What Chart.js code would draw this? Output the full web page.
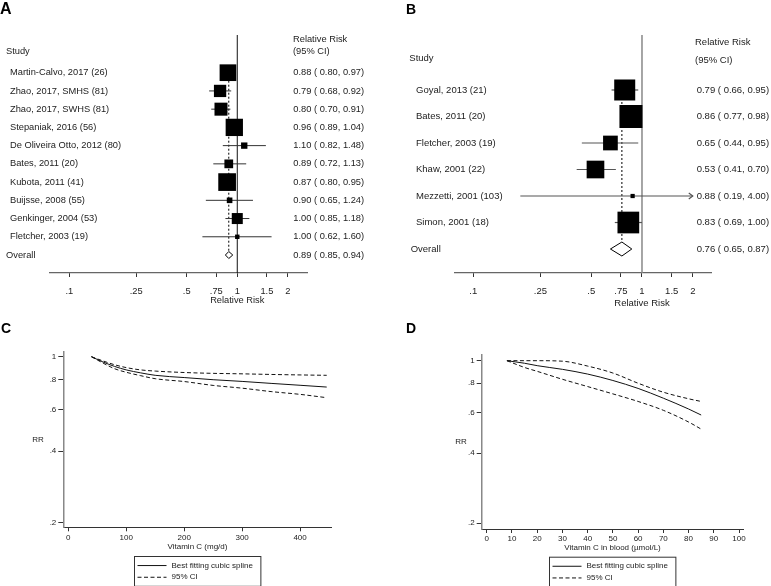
<!DOCTYPE html>
<html>
<head>
<meta charset="utf-8">
<script src="https://cdn.jsdelivr.net/npm/chart.js@4.4.1/dist/chart.umd.min.js"></script>
<style>
body{margin:0;background:#fff;width:771px;height:586px;overflow:hidden;position:relative;font-family:"Liberation Sans",Arial,sans-serif}
canvas{position:absolute}
.lbl{position:absolute;font-weight:bold;font-size:14px;line-height:1;color:#000}
</style>
</head>
<body>
<canvas id="cA" width="385" height="310" style="left:0;top:0"></canvas>
<canvas id="cB" width="386" height="310" style="left:385px;top:0"></canvas>
<canvas id="cC" width="385" height="276" style="left:0;top:310px"></canvas>
<canvas id="cD" width="386" height="276" style="left:385px;top:310px"></canvas>
<div class="lbl" style="left:0;top:1px;font-size:16px">A</div>
<div class="lbl" style="left:406px;top:2px">B</div>
<div class="lbl" style="left:1px;top:321px">C</div>
<div class="lbl" style="left:406px;top:321px">D</div>
<script>
// panel A - dietary vitamin C
const studiesA = ['Martin-Calvo, 2017 (26)', 'Zhao, 2017, SMHS (81)', 'Zhao, 2017, SWHS (81)',
  'Stepaniak, 2016 (56)', 'De Oliveira Otto, 2012 (80)', 'Bates, 2011 (20)', 'Kubota, 2011 (41)',
  'Buijsse, 2008 (55)', 'Genkinger, 2004 (53)', 'Fletcher, 2003 (19)'];
const rrA = [0.88, 0.79, 0.80, 0.96, 1.10, 0.89, 0.87, 0.90, 1.00, 1.00];
const loA = [0.80, 0.68, 0.70, 0.89, 0.82, 0.72, 0.80, 0.65, 0.85, 0.62];
const hiA = [0.97, 0.92, 0.91, 1.04, 1.48, 1.13, 0.95, 1.24, 1.18, 1.60];
const weightA = [18.6, 10.1, 11.3, 20.0, 2.7, 5.1, 20.9, 2.1, 8.1, 1.3];
const overallA = [0.89, 0.85, 0.94];

// panel B - vitamin C in blood
const studiesB = ['Goyal, 2013 (21)', 'Bates, 2011 (20)', 'Fletcher, 2003 (19)', 'Khaw, 2001 (22)',
  'Mezzetti, 2001 (103)', 'Simon, 2001 (18)'];
const rrB = [0.79, 0.86, 0.65, 0.53, 0.88, 0.83];
const loB = [0.66, 0.77, 0.44, 0.41, 0.19, 0.69];
const hiB = [0.95, 0.98, 0.95, 0.70, 4.00, 1.00];
const weightB = [22.2, 26.6, 10.9, 15.7, 0.9, 23.7];
const overallB = [0.76, 0.65, 0.87];

const rrTicks = [0.1, 0.25, 0.5, 0.75, 1, 1.5, 2];
const rrTickLabels = ['.1', '.25', '.5', '.75', '1', '1.5', '2'];

// panel C - dose response, intake
const doseC = [40, 60, 80, 100, 125, 150, 200, 250, 300, 350, 400, 446];
const fitC = [1.0, 0.95, 0.91, 0.88, 0.855, 0.835, 0.817, 0.80, 0.787, 0.772, 0.758, 0.745];
const upC = [1.0, 0.96, 0.925, 0.90, 0.88, 0.87, 0.858, 0.851, 0.847, 0.842, 0.838, 0.835];
const lowC = [1.0, 0.94, 0.89, 0.86, 0.832, 0.808, 0.786, 0.757, 0.737, 0.713, 0.694, 0.672];
const doseTicks = [0, 100, 200, 300, 400];

// panel D - dose response, blood level
const bloodD = [8, 15, 20, 30, 40, 50, 60, 70, 80, 85];
const fitD = [1.0, 0.975, 0.952, 0.918, 0.876, 0.822, 0.76, 0.69, 0.62, 0.584];
const upD = [1.0, 1.0, 1.0, 0.995, 0.948, 0.885, 0.80, 0.732, 0.686, 0.668];
const lowD = [1.0, 0.935, 0.90, 0.832, 0.774, 0.72, 0.668, 0.612, 0.545, 0.508];
const bloodTicks = [0, 10, 20, 30, 40, 50, 60, 70, 80, 90, 100];

const rrAxisTicks = [0.2, 0.4, 0.6, 0.8, 1];
const rrAxisLabels = ['.2', '.4', '.6', '.8', '1'];

const FONT = '"Liberation Sans", Arial, sans-serif';
Chart.defaults.font.family = FONT;
Chart.defaults.color = '#222';

function seg(ctx, x0, y0, x1, y1) {
  ctx.beginPath(); ctx.moveTo(x0, y0); ctx.lineTo(x1, y1); ctx.stroke();
}
const fmt = (r, l, h) => r.toFixed(2) + ' ( ' + l.toFixed(2) + ', ' + h.toFixed(2) + ')';

function forestPlugin(d, s) {
  return {
    id: 'forest',
    beforeDatasetsDraw(chart) {
      const {ctx, chartArea: a, scales: {x, y}} = chart;
      ctx.save();
      // line of no effect
      ctx.strokeStyle = s.refColor; ctx.lineWidth = s.refWidth;
      const x1 = x.getPixelForValue(1);
      seg(ctx, x1, a.top, x1, a.bottom);
      // overall estimate
      const n = d.rr.length;
      const xo = x.getPixelForValue(d.overall[0]);
      ctx.strokeStyle = '#000'; ctx.lineWidth = 1; ctx.setLineDash([2, 2]);
      seg(ctx, xo, y.getPixelForValue(0), xo, y.getPixelForValue(n) - s.diaH);
      ctx.setLineDash([]);
      // confidence intervals
      const cap = rrTicks[rrTicks.length - 1];
      ctx.strokeStyle = s.ciColor; ctx.lineWidth = s.ciWidth;
      d.lo.forEach((lo, i) => {
        const yy = y.getPixelForValue(i);
        const xl = x.getPixelForValue(lo);
        const xr = x.getPixelForValue(Math.min(d.hi[i], cap));
        seg(ctx, xl, yy, xr, yy);
        if (d.hi[i] > cap) {
          ctx.beginPath();
          ctx.moveTo(xr - 4, yy - 3); ctx.lineTo(xr, yy); ctx.lineTo(xr - 4, yy + 3);
          ctx.stroke();
        }
      });
      ctx.restore();
    },
    afterDraw(chart) {
      const {ctx, scales: {x, y}} = chart;
      const n = d.rr.length;
      ctx.save();
      // diamond
      const yo = y.getPixelForValue(n);
      ctx.beginPath();
      ctx.moveTo(x.getPixelForValue(d.overall[1]), yo);
      ctx.lineTo(x.getPixelForValue(d.overall[0]), yo - s.diaH);
      ctx.lineTo(x.getPixelForValue(d.overall[2]), yo);
      ctx.lineTo(x.getPixelForValue(d.overall[0]), yo + s.diaH);
      ctx.closePath();
      ctx.fillStyle = '#fff'; ctx.fill();
      ctx.strokeStyle = '#000'; ctx.lineWidth = 1; ctx.stroke();
      // text columns
      ctx.fillStyle = '#222';
      ctx.font = s.font + 'px ' + FONT;
      ctx.textBaseline = 'middle'; ctx.textAlign = 'left';
      ctx.fillText('Study', s.studyX, s.studyY);
      ctx.fillText('Relative Risk', s.headX, s.head1Y);
      ctx.fillText('(95% CI)', s.headX, s.head2Y);
      d.names.forEach((nm, i) => {
        const yy = y.getPixelForValue(i);
        ctx.fillText(nm, s.nameX, yy);
        ctx.fillText(fmt(d.rr[i], d.lo[i], d.hi[i]), s.ciX, yy);
      });
      ctx.fillText('Overall', s.overallX, yo);
      ctx.fillText(fmt(d.overall[0], d.overall[1], d.overall[2]), s.ciX, yo);
      ctx.textAlign = 'center';
      ctx.fillText('Relative Risk', x.getPixelForValue(1), s.titleY);
      ctx.restore();
    }
  };
}

function forestChart(id, d, s) {
  const radius = d.weight.map(w => s.boxK * Math.sqrt(w) / Math.SQRT2);
  return new Chart(document.getElementById(id), {
    type: 'scatter',
    data: {
      datasets: [{
        data: d.rr.map((v, i) => ({x: v, y: i})),
        pointStyle: 'rect',
        pointRadius: radius,
        pointHoverRadius: radius,
        backgroundColor: '#000',
        borderWidth: 0
      }]
    },
    options: {
      responsive: false, animation: false, devicePixelRatio: 1,
      layout: {padding: {left: s.left, right: s.right, top: 35, bottom: 7}},
      scales: {
        x: {
          type: 'logarithmic', min: s.min, max: s.max,
          afterBuildTicks: sc => { sc.ticks = rrTicks.map(v => ({value: v})); },
          afterFit: sc => { sc.height = 30; },
          ticks: {callback: (v, i) => rrTickLabels[i], font: {size: s.font}, color: '#222',
            padding: 8.5, maxRotation: 0, autoSkip: false},
          grid: {drawOnChartArea: false, tickLength: 4, color: '#333'},
          border: {color: '#666', width: 1.2}
        },
        y: {type: 'linear', display: false, reverse: true, min: s.ymin, max: s.ymax}
      },
      plugins: {legend: {display: false}, tooltip: {enabled: false}}
    },
    plugins: [forestPlugin(d, s)]
  });
}

forestChart('cA',
  {names: studiesA, rr: rrA, lo: loA, hi: hiA, weight: weightA, overall: overallA},
  {left: 50, right: 78, min: 0.0768, max: 2.60, ymin: -2.068, ymax: 10.987, boxK: 3.87,
   font: 9.3, refColor: '#111', refWidth: 1, ciColor: '#333', ciWidth: 1, diaH: 3.5,
   studyX: 6, studyY: 51, headX: 293, head1Y: 39, head2Y: 51, nameX: 10, overallX: 6,
   ciX: 293.3, titleY: 300});

forestChart('cB',
  {names: studiesB, rr: rrB, lo: loB, hi: hiB, weight: weightB, overall: overallB},
  {left: 70, right: 60, min: 0.0779, max: 2.565, ymin: -2.075, ymax: 6.905, boxK: 4.46,
   font: 9.5, refColor: '#888', refWidth: 1.5, ciColor: '#555', ciWidth: 1.2, diaH: 7,
   studyX: 24.3, studyY: 58.5, headX: 310, head1Y: 42, head2Y: 60, nameX: 31, overallX: 25.7,
   ciX: 311.7, titleY: 303.5});

function splinePlugin(s) {
  return {
    id: 'splineExtras',
    afterDraw(chart) {
      const {ctx, chartArea: a} = chart;
      ctx.save();
      ctx.fillStyle = '#222';
      ctx.font = '8px ' + FONT;
      ctx.textBaseline = 'middle';
      ctx.textAlign = 'center';
      ctx.fillText('RR', s.rrX, (a.top + a.bottom) / 2);
      // boxed legend below the axis
      ctx.textAlign = 'left';
      const items = chart.data.datasets.filter(ds => ds.inLegend !== false);
      const tw = Math.max(...items.map(ds => ctx.measureText(ds.label).width));
      const w = 37 + tw + 8, rowH = 11.7, padT = 3.2;
      const left = Math.round((a.left + a.right) / 2 - w / 2) + 0.5;
      const top = s.legTop + 0.5;
      ctx.strokeStyle = '#333'; ctx.lineWidth = 1;
      ctx.strokeRect(left, top, w, rowH * items.length + padT * 2);
      items.forEach((ds, i) => {
        const yy = top + padT + rowH * (i + 0.5);
        ctx.setLineDash(ds.borderDash || []);
        ctx.strokeStyle = ds.borderColor;
        seg(ctx, left + 3, yy, left + 32, yy);
        ctx.setLineDash([]);
        ctx.fillText(ds.label, left + 37, yy);
      });
      ctx.restore();
    }
  };
}

function splineChart(id, xs, fit, up, low, xTicks, xTitle, s) {
  const pts = arr => xs.map((v, i) => ({x: v, y: arr[i]}));
  const base = {borderColor: '#111', borderWidth: 1, pointRadius: 0, fill: false,
    cubicInterpolationMode: 'monotone'};
  return new Chart(document.getElementById(id), {
    type: 'line',
    data: {
      datasets: [
        {...base, label: 'Best fitting cubic spline', data: pts(fit)},
        {...base, label: '95% CI', data: pts(up), borderDash: [4, 2.5]},
        {...base, label: '95% CI', data: pts(low), borderDash: [4, 2.5], inLegend: false}
      ]
    },
    options: {
      responsive: false, animation: false, devicePixelRatio: 1,
      layout: {padding: s.pad},
      scales: {
        x: {
          type: 'linear', min: s.xmin, max: s.xmax,
          afterBuildTicks: sc => { sc.ticks = xTicks.map(v => ({value: v})); },
          afterFit: sc => { sc.height = s.xh; },
          ticks: {font: {size: 8}, color: '#222', padding: s.xpad, maxRotation: 0, autoSkip: false},
          grid: {drawOnChartArea: false, tickLength: 4, color: '#333'},
          border: {color: '#333', width: 1},
          title: {display: true, text: xTitle, font: {size: 8}, color: '#222', padding: 0}
        },
        y: {
          type: 'logarithmic', min: s.ymin, max: s.ymax,
          afterBuildTicks: sc => { sc.ticks = rrAxisTicks.map(v => ({value: v})); },
          afterFit: sc => { sc.width = 40; },
          ticks: {callback: (v, i) => rrAxisLabels[i], font: {size: 8}, color: '#222',
            padding: 2, autoSkip: false},
          grid: {drawOnChartArea: false, tickLength: 5, color: '#333'},
          border: {color: '#888', width: 1.5}
        }
      },
      plugins: {legend: {display: false}, tooltip: {enabled: false}}
    },
    plugins: [splinePlugin(s)]
  });
}

splineChart('cC', doseC, fitC, upC, lowC, doseTicks, 'Vitamin C (mg/d)',
  {pad: {left: 23.3, right: 53.3, top: 41.7, bottom: 34.5}, xmin: -8.6, xmax: 454.6,
   ymin: 0.191, ymax: 1.05, xh: 24.2, xpad: 1.6, rrX: 38, legTop: 246});

splineChart('cD', bloodD, fitD, upD, lowD, bloodTicks, 'Vitamin C in blood (\u00b5mol/L)',
  {pad: {left: 56.7, right: 27.7, top: 45, bottom: 33.9}, xmin: -2, xmax: 101.7,
   ymin: 0.189, ymax: 1.058, xh: 23.1, xpad: 1.2, rrX: 76, legTop: 246.7});
</script>
</body>
</html>
